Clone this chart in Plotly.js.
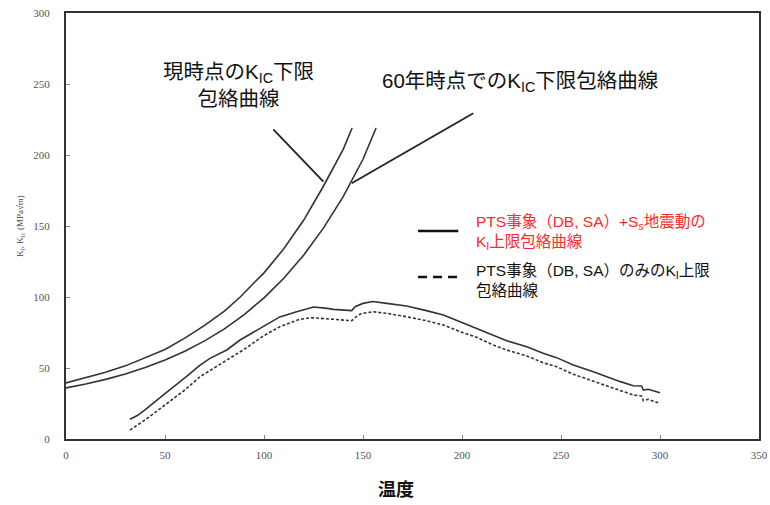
<!DOCTYPE html>
<html>
<head>
<meta charset="utf-8">
<script src="https://cdn.plot.ly/plotly-3.0.1.min.js"></script>
<style>
  html, body { margin: 0; padding: 0; background: #fff; }
  #chart { width: 770px; height: 505px; }
</style>
</head>
<body>
<div id="chart"></div>
<script>
// K_IC lower-bound envelope, current time
const kicNowT = [0, 10, 20, 30, 40, 50, 60, 70, 80, 88, 95, 100, 110, 120, 130, 140, 144.5];
const kicNowK = [39.5, 43, 47, 51.5, 57, 63, 71, 80, 90, 100, 110, 117, 134, 154, 178, 204, 219];

// K_IC lower-bound envelope at 60 years
const kic60T = [0, 10, 20, 30, 40, 50, 60, 70, 80, 90, 100, 110, 120, 130, 140, 150, 156.6];
const kic60K = [36, 38.7, 42, 45.8, 50.3, 55.6, 61.8, 69.1, 77.6, 87.6, 99.4, 113.2, 129.4, 148.5, 170.7, 197, 219];

// K_I upper envelope: PTS events (DB, SA) + Ss earthquake motion
const ptsSsT = [32.3, 36, 39.9, 45, 50, 60, 67.7, 72.7, 81.2, 87.9, 99.6, 108, 116.5, 123, 125, 132, 135, 144.3,
                146, 150, 155, 162, 172, 182, 190.6, 199, 207.4, 215.8, 222.6, 232.7, 241, 247.8, 256.2, 266.3,
                273, 280, 286.5, 290.7, 291.6, 294, 300];
const ptsSsK = [13.9, 16.5, 20.5, 26.5, 32, 43, 52, 56.8, 62.7, 69.7, 79.5, 86, 89.6, 92.3, 93, 92, 91.3, 90.4,
                93.2, 95.5, 96.8, 95.5, 93.7, 90.4, 87.3, 82.6, 78, 73.2, 69.2, 65, 60.4, 57.3, 52.1, 47.4,
                43.9, 40.4, 37.5, 37.3, 34.5, 35, 32.6];

// K_I upper envelope: PTS events (DB, SA) only
const ptsT = [32.3, 40, 50, 60, 67.7, 75, 80, 89.5, 99.6, 108, 118, 124, 135, 144.3, 147.6, 150, 155, 162, 172,
              182, 190.6, 199, 207.4, 215.8, 222.6, 232.7, 241, 247.8, 256.2, 266.3, 273, 280, 286.5, 290.7,
              291.6, 294, 300];
const ptsK = [6.3, 13.5, 24, 34.5, 43.9, 50, 54.5, 62.7, 72.5, 79.1, 84.3, 85.4, 84.3, 83.3, 87.3, 88.5, 89.6,
              88.5, 86.1, 83.3, 80.3, 75.6, 71.6, 66.2, 62.7, 58.5, 53.7, 50.9, 45.6, 40.8, 37.3, 33.8, 31,
              30.3, 27, 28, 25];

const xTicks = [0, 50, 100, 150, 200, 250, 300, 350];
const yTicks = [0, 50, 100, 150, 200, 250, 300];

// Label texts
const labelNow = '現時点のK<sub>IC</sub>下限<br>包絡曲線';
const label60 = '60年時点でのK<sub>IC</sub>下限包絡曲線';
const legendSs = 'PTS事象（DB, SA）+S<sub>s</sub>地震動の<br>K<sub>I</sub>上限包絡曲線';
const legendPts = 'PTS事象（DB, SA）のみのK<sub>I</sub>上限<br>包絡曲線';
const xTitle = '<b>温度</b>';
const yTitle = 'K<sub>I</sub>, K<sub>Ic</sub> (MPa√m)';

const curveColor = '#333333';
const jp = '"Liberation Sans", "Noto Sans CJK JP", sans-serif';
const serif = '"Liberation Serif", "DejaVu Serif", serif';

const traces = [
  { x: kicNowT, y: kicNowK, mode: 'lines', line: { color: curveColor, width: 1.6 }, showlegend: false, hoverinfo: 'skip' },
  { x: kic60T, y: kic60K, mode: 'lines', line: { color: curveColor, width: 1.6 }, showlegend: false, hoverinfo: 'skip' },
  { x: ptsSsT, y: ptsSsK, mode: 'lines', line: { color: curveColor, width: 1.6 }, showlegend: false, hoverinfo: 'skip' },
  { x: ptsT, y: ptsK, mode: 'lines', line: { color: curveColor, width: 1.6, dash: '3px,2px' }, showlegend: false, hoverinfo: 'skip' }
];

// pointer lines from labels to the two K_IC curves
const pointerNow = { x0: 104.7, y0: 218.1, x1: 130, y1: 181.2 };
const pointer60 = { x0: 205.7, y0: 229.4, x1: 144.3, y1: 180.1 };

const layout = {
  width: 770,
  height: 505,
  margin: { l: 66, r: 11, t: 13, b: 66 },
  paper_bgcolor: '#ffffff',
  plot_bgcolor: '#ffffff',
  showlegend: false,
  xaxis: {
    range: [0, 350],
    tickvals: xTicks,
    ticktext: xTicks.map(String),
    ticks: 'inside',
    ticklen: 4,
    tickcolor: '#888',
    showgrid: false,
    zeroline: false,
    showline: true,
    linecolor: '#333',
    linewidth: 2,
    mirror: true,
    tickfont: { family: serif, size: 11, color: '#555' },
    ticklabelstandoff: 5
  },
  yaxis: {
    range: [0, 300],
    tickvals: yTicks,
    ticktext: yTicks.map(String),
    ticks: 'inside',
    ticklen: 4,
    tickcolor: '#888',
    showgrid: false,
    zeroline: false,
    showline: true,
    linecolor: '#333',
    linewidth: 2,
    mirror: true,
    tickfont: { family: serif, size: 11, color: '#555' },
    ticklabelstandoff: 12,
    title: { text: yTitle, font: { family: serif, size: 9, color: '#444' }, standoff: 8 }
  },
  shapes: [
    { type: 'line', xref: 'x', yref: 'y', x0: pointerNow.x0, y0: pointerNow.y0, x1: pointerNow.x1, y1: pointerNow.y1,
      line: { color: '#222', width: 1.8 } },
    { type: 'line', xref: 'x', yref: 'y', x0: pointer60.x0, y0: pointer60.y0, x1: pointer60.x1, y1: pointer60.y1,
      line: { color: '#222', width: 1.8 } },
    // key samples
    { type: 'line', xref: 'paper', yref: 'paper', x0: 0.508, x1: 0.566, y0: 0.488, y1: 0.488,
      line: { color: '#111', width: 2.5 } },
    { type: 'line', xref: 'paper', yref: 'paper', x0: 0.508, x1: 0.566, y0: 0.380, y1: 0.380,
      line: { color: '#111', width: 2.5, dash: '9px,6px' } }
  ],
  annotations: [
    { xref: 'x', yref: 'y', x: 86.9, y: 249.2, xanchor: 'center', yanchor: 'middle', align: 'center',
      text: labelNow, showarrow: false, font: { family: jp, size: 20.5, color: '#111' } },
    { xref: 'x', yref: 'y', x: 229.3, y: 251.4, xanchor: 'center', yanchor: 'middle',
      text: label60, showarrow: false, font: { family: jp, size: 20.5, color: '#111' } },
    { xref: 'paper', yref: 'paper', x: 0.589, y: 0.484, xanchor: 'left', yanchor: 'middle', align: 'left',
      text: legendSs, showarrow: false, font: { family: jp, size: 15.5, color: '#ff2a2a' } },
    { xref: 'paper', yref: 'paper', x: 0.589, y: 0.372, xanchor: 'left', yanchor: 'middle', align: 'left',
      text: legendPts, showarrow: false, font: { family: jp, size: 15.5, color: '#111' } },
    { xref: 'paper', yref: 'paper', x: 0.476, y: -0.12, xanchor: 'center', yanchor: 'middle',
      text: xTitle, showarrow: false, font: { family: jp, size: 18, color: '#111' } }
  ]
};

Plotly.newPlot('chart', traces, layout, { staticPlot: true, displayModeBar: false });
</script>
</body>
</html>
